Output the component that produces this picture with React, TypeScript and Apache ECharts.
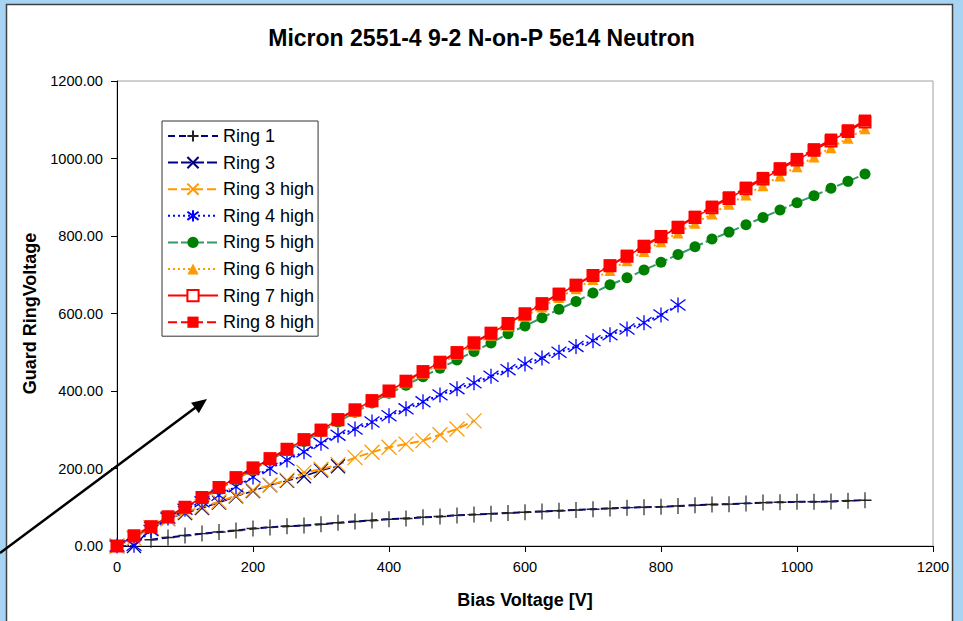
import React, { useEffect, useRef } from "react";
import * as echarts from "echarts";

const titleText = "Micron 2551-4 9-2 N-on-P 5e14 Neutron";
const xAxisName = "Bias Voltage [V]";
const yAxisName = "Guard RingVoltage";

const biasFull = [0, 25, 50, 75, 100, 125, 150, 175, 200, 225, 250, 275, 300, 325, 350, 375, 400, 425, 450, 475, 500, 525, 550, 575, 600, 625, 650, 675, 700, 725, 750, 775, 800, 825, 850, 875, 900, 925, 950, 975, 1000, 1025, 1050, 1075, 1100];
const biasRing1 = [50, 75, 100, 125, 150, 175, 200, 225, 250, 275, 300, 325, 350, 375, 400, 425, 450, 475, 500, 525, 550, 575, 600, 625, 650, 675, 700, 725, 750, 775, 800, 825, 850, 875, 900, 925, 950, 975, 1000, 1025, 1050, 1075, 1100];
const biasRing3 = [0, 25, 50, 75, 100, 125, 150, 175, 200, 225, 250, 275, 300, 325];
const biasRing3High = [0, 25, 50, 75, 100, 125, 150, 175, 200, 225, 250, 275, 300, 325, 350, 375, 400, 425, 450, 475, 500, 525];
const biasRing4High = [0, 25, 50, 75, 100, 125, 150, 175, 200, 225, 250, 275, 300, 325, 350, 375, 400, 425, 450, 475, 500, 525, 550, 575, 600, 625, 650, 675, 700, 725, 750, 775, 800, 825];

const ring1 = [16, 22, 27, 32, 36, 40, 45, 48, 51, 53, 56, 60, 63, 66, 69, 71, 74, 76, 79, 81, 83, 85, 87, 89, 91, 93, 95, 97, 99, 100, 101, 103, 105, 107, 108, 110, 112, 113, 114, 114, 115, 117, 118];
const ring3 = [0, 0, 45, 70, 85, 98, 112, 128, 142, 157, 168, 180, 195, 206];
const ring3High = [0, 20, 48, 70, 88, 101, 114, 130, 144, 157, 170, 190, 198, 210, 228, 242, 255, 263, 272, 287, 302, 323];
const ring4High = [0, 2, 40, 72, 95, 114, 131, 153, 178, 200, 222, 243, 265, 286, 302, 320, 336, 354, 372, 390, 406, 421, 438, 455, 470, 485, 500, 515, 530, 545, 560, 576, 596, 622];
const ring5High = [0, 25, 48, 73, 98, 122, 147, 172, 197, 222, 246, 270, 295, 320, 345, 369, 394, 415, 437, 459, 480, 502, 524, 548, 568, 589, 611, 631, 653, 674, 692, 712, 732, 752, 772, 792, 810, 829, 848, 867, 886, 904, 923, 941, 960];
const ring6High = [0, 25, 49, 74, 98, 123, 149, 174, 199, 223, 247, 272, 297, 323, 347, 372, 396, 421, 446, 470, 495, 519, 544, 568, 593, 617, 641, 664, 688, 711, 736, 760, 785, 808, 833, 857, 882, 906, 930, 955, 979, 1004, 1028, 1052, 1077];
const ring7High = [0, 26, 50, 75, 100, 125, 151, 176, 201, 225, 250, 274, 299, 326, 351, 375, 400, 425, 450, 474, 499, 524, 549, 574, 599, 625, 650, 673, 698, 723, 748, 773, 798, 822, 848, 873, 897, 922, 947, 972, 996, 1021, 1045, 1070, 1094];
const ring8High = [0, 27, 50, 76, 100, 126, 152, 177, 202, 226, 250, 275, 300, 327, 352, 376, 400, 426, 451, 475, 500, 525, 550, 575, 600, 626, 651, 674, 699, 724, 749, 775, 800, 824, 850, 876, 900, 925, 950, 975, 999, 1024, 1049, 1073, 1098];

const xTicks = { min: 0, max: 1200, interval: 200 };
const yTicks = { min: 0, max: 1200, interval: 200 };

const FONT = "'Liberation Sans', Arial, sans-serif";
const PLUS = "path://M6,0L6,16M0,8L12,8";
const CROSS = "path://M0,0L10,10M10,0L0,10";
const STAR = "path://M1,1L9,9M9,1L1,9M5,-0.5L5,10.5";

function pairs(xs: number[], ys: number[]) {
  return xs.map((x, i) => [x, ys[i]]);
}

export default function App() {
  const ref = useRef<HTMLDivElement>(null);
  useEffect(() => {
    if (!ref.current) return;
    const chart = echarts.init(ref.current, null, { renderer: "svg" });

    // arrow geometry (annotation)
    const ax0 = 0, ay0 = 553, tx = 207, ty = 399;
    const dx = tx - ax0, dy = ty - ay0;
    const len = Math.sqrt(dx * dx + dy * dy);
    const ux = dx / len, uy = dy / len;
    const hl = 15, hw = 6.5;
    const bx = tx - hl * ux, by = ty - hl * uy;
    const nx = -uy, ny = ux;

    const mk = (
      name: string,
      data: number[][],
      symbol: string,
      symbolSize: number | number[],
      markerColor: string,
      lineColor: string,
      lineType: any,
      lineWidth: number,
      stroke: boolean
    ) => ({
      name,
      type: "line",
      data,
      symbol,
      symbolSize,
      showSymbol: true,
      itemStyle: stroke
        ? { color: markerColor, borderColor: markerColor, borderWidth: 1.3 }
        : { color: markerColor, borderColor: markerColor, borderWidth: 0 },
      lineStyle: { color: lineColor, type: lineType, width: lineWidth },
      emphasis: { disabled: true },
    });

    chart.setOption({
      animation: false,
      backgroundColor: "#a6d4f2",
      textStyle: { fontFamily: FONT },
      title: {
        text: titleText,
        left: "center",
        top: 26,
        padding: 0,
        textStyle: { fontFamily: FONT, fontSize: 23, fontWeight: "bold", color: "#000" },
      },
      graphic: [
        {
          type: "rect",
          z: -10,
          silent: true,
          shape: { x: 6.5, y: 4.5, width: 946, height: 660 },
          style: { fill: "#ffffff", stroke: "#404040", lineWidth: 1.5 },
        },
        {
          type: "line",
          z: 100,
          silent: true,
          shape: { x1: ax0, y1: ay0, x2: bx + 2 * ux, y2: by + 2 * uy },
          style: { stroke: "#000", lineWidth: 2.5 },
        },
        {
          type: "polygon",
          z: 100,
          silent: true,
          shape: {
            points: [
              [tx, ty],
              [bx + hw * nx, by + hw * ny],
              [bx - hw * nx, by - hw * ny],
            ],
          },
          style: { fill: "#000" },
        },
      ],
      grid: {
        left: 117,
        right: 30,
        top: 81,
        bottom: 75,
        show: true,
        backgroundColor: "#ffffff",
        borderColor: "#a0a0a0",
        borderWidth: 1,
        containLabel: false,
        outerBoundsMode: "none",
      },
      legend: {
        orient: "vertical",
        left: 162,
        top: 121,
        itemWidth: 50,
        itemHeight: 14,
        itemGap: 8.6,
        padding: [6, 4, 5, 5],
        backgroundColor: "#ffffff",
        borderColor: "#333",
        borderWidth: 1,
        textStyle: { fontFamily: FONT, fontSize: 18, color: "#000", lineHeight: 18 },
        selectedMode: false,
      },
      xAxis: {
        type: "value",
        min: xTicks.min,
        max: xTicks.max,
        interval: xTicks.interval,
        name: xAxisName,
        nameLocation: "middle",
        nameGap: 45,
        nameTextStyle: { fontFamily: FONT, fontSize: 18, fontWeight: "bold", color: "#000" },
        axisLine: { show: true, onZero: false, lineStyle: { color: "#000", width: 1 } },
        axisTick: { show: true, inside: false, length: 6, lineStyle: { color: "#000" } },
        axisLabel: {
          fontFamily: FONT,
          fontSize: 14.6,
          color: "#000",
          margin: 13,
          formatter: (v: number) => String(v),
        },
        splitLine: { show: false },
      },
      yAxis: {
        type: "value",
        min: yTicks.min,
        max: yTicks.max,
        interval: yTicks.interval,
        name: yAxisName,
        nameLocation: "middle",
        nameGap: 78,
        nameTextStyle: { fontFamily: FONT, fontSize: 18, fontWeight: "bold", color: "#000" },
        axisLine: { show: true, onZero: false, lineStyle: { color: "#000", width: 1 } },
        axisTick: { show: true, inside: false, length: 6, lineStyle: { color: "#000" } },
        axisLabel: {
          fontFamily: FONT,
          fontSize: 14.6,
          color: "#000",
          margin: 14,
          formatter: (v: number) => v.toFixed(2),
        },
        splitLine: { show: false },
      },
      series: [
        mk("Ring 1", pairs(biasRing1, ring1), PLUS, [13, 16], "#222222", "#000080", [7, 4], 2, true),
        mk("Ring 3", pairs(biasRing3, ring3), CROSS, 14, "#000080", "#000080", [10, 3], 1.5, true),
        mk("Ring 3 high", pairs(biasRing3High, ring3High), CROSS, 15, "#ff9900", "#ff9900", [9, 4], 2, true),
        mk("Ring 4 high", pairs(biasRing4High, ring4High), STAR, 15, "#0000ff", "#0000ff", [2, 3], 2, true),
        mk("Ring 5 high", pairs(biasFull, ring5High), "circle", 11, "#008000", "#339966", [10, 3], 2, false),
        mk("Ring 6 high", pairs(biasFull, ring6High), "triangle", 11, "#ff9900", "#ff9900", [2, 3], 2, false),
        mk("Ring 7 high", pairs(biasFull, ring7High), "emptyRect", 11, "#ff0000", "#ff0000", "solid", 1.5, true),
        mk("Ring 8 high", pairs(biasFull, ring8High), "rect", 12, "#ff0000", "#ff0000", [9, 4], 2, false),
      ],
    });
    return () => chart.dispose();
  }, []);
  return (
    <div
      ref={ref}
      style={{ position: "fixed", left: 0, top: 0, width: 963, height: 621 }}
    />
  );
}
